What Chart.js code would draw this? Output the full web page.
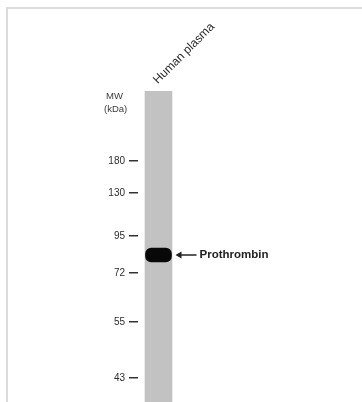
<!DOCTYPE html>
<html>
<head>
<meta charset="utf-8">
<script src="https://cdn.jsdelivr.net/npm/chart.js@4/dist/chart.umd.min.js"></script>
<style>
  html, body { margin: 0; padding: 0; background: #ffffff; }
  #wrap { position: relative; width: 362px; height: 402px; }
</style>
</head>
<body>
<div id="wrap"><canvas id="c"></canvas></div>
<script>
// ---- data read from the blot ----
const laneNames = ['Human plasma'];
const markerMW = [180, 130, 95, 72, 55, 43];          // tick labels (kDa)
const markerMigration = [70, 102, 145, 182, 231, 287]; // migration distance of each marker
const laneRange = [[0, 311]];                          // gel lane extent (migration units)
const bandRange = [[157, 171]];                        // detected band extent
const bandLabel = 'Prothrombin';
const axisTitle = ['MW', '(kDa)'];

const FONT = '"Liberation Sans", Arial, sans-serif';

const decor = {
  id: 'decor',
  beforeDraw(chart) {
    const ctx = chart.ctx;
    ctx.save();
    ctx.fillStyle = '#dcdcdc';
    ctx.fillRect(6, 7, 356, 2);
    ctx.fillRect(6, 7, 2, 395);
    ctx.restore();
  },
  afterDraw(chart) {
    const ctx = chart.ctx;
    const xs = chart.scales.x, ys = chart.scales.y;
    ctx.save();
    // lane name, rotated
    laneNames.forEach((name, i) => {
      const x = xs.getPixelForValue(i);
      ctx.save();
      ctx.translate(x - 3, chart.chartArea.top - 9);
      ctx.rotate(-Math.PI / 4);
      ctx.font = '12px ' + FONT;
      ctx.fillStyle = '#2a2a2a';
      ctx.textAlign = 'left';
      ctx.textBaseline = 'middle';
      ctx.fillText(name, 0, 0);
      ctx.restore();
    });
    // axis title
    ctx.font = '9.5px ' + FONT;
    ctx.fillStyle = '#3a3a3a';
    ctx.textAlign = 'left';
    ctx.textBaseline = 'middle';
    ctx.fillText(axisTitle[0], 106, chart.chartArea.top + 5);
    ctx.fillText(axisTitle[1], 104, chart.chartArea.top + 18);
    // band arrow + label
    const bar = chart.getDatasetMeta(1).data[0];
    const yc = (ys.getPixelForValue(bandRange[0][0]) + ys.getPixelForValue(bandRange[0][1])) / 2;
    const x0 = bar.x + bar.width / 2 + 4;
    ctx.strokeStyle = '#222';
    ctx.fillStyle = '#222';
    ctx.lineWidth = 1.5;
    ctx.beginPath();
    ctx.moveTo(x0 + 4, yc);
    ctx.lineTo(x0 + 21, yc);
    ctx.stroke();
    ctx.beginPath();
    ctx.moveTo(x0, yc);
    ctx.lineTo(x0 + 6, yc - 3.5);
    ctx.lineTo(x0 + 6, yc + 3.5);
    ctx.closePath();
    ctx.fill();
    ctx.font = 'bold 11.5px ' + FONT;
    ctx.fillStyle = '#222';
    ctx.textAlign = 'left';
    ctx.textBaseline = 'middle';
    ctx.fillText(bandLabel, x0 + 24, yc);
    ctx.restore();
  }
};

new Chart(document.getElementById('c'), {
  type: 'bar',
  data: {
    labels: laneNames,
    datasets: [
      { data: laneRange, backgroundColor: '#c2c2c2', barThickness: 27, grouped: false, order: 2 },
      { data: bandRange, backgroundColor: '#080808', barThickness: 26, grouped: false, order: 1,
        borderRadius: 6, borderSkipped: false }
    ]
  },
  options: {
    responsive: true,
    maintainAspectRatio: false,
    animation: false,
    layout: { padding: { left: 0, top: 91, right: 183, bottom: 0 } },
    plugins: { legend: { display: false }, tooltip: { enabled: false } },
    scales: {
      x: { type: 'category', position: 'top', display: false, offset: true },
      y: {
        type: 'linear', reverse: true, min: 0, max: 311,
        afterFit(scale) { scale.width = 138; scale.paddingTop = 0; scale.paddingBottom = 0; },
        afterBuildTicks(scale) { scale.ticks = markerMigration.map(v => ({ value: v })); },
        border: { display: false },
        grid: { drawOnChartArea: false, drawTicks: true, tickLength: 9, color: '#333', lineWidth: 1.5 },
        ticks: {
          padding: 4,
          color: '#2e2e2e',
          font: { family: FONT, size: 10 },
          autoSkip: false,
          callback: (v) => { const i = markerMigration.indexOf(v); return i >= 0 ? String(markerMW[i]) : ''; }
        }
      }
    }
  },
  plugins: [decor]
});
</script>
</body>
</html>
